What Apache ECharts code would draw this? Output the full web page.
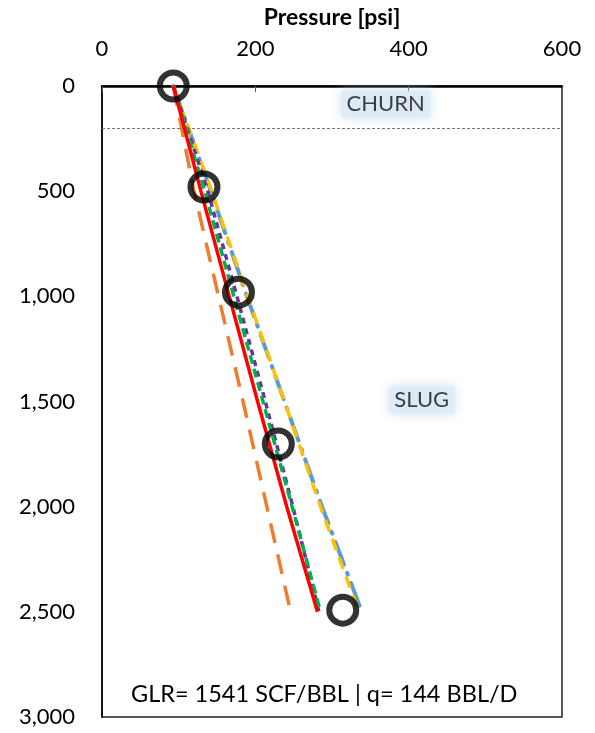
<!DOCTYPE html>
<html><head><meta charset="utf-8">
<script src="https://cdn.jsdelivr.net/npm/echarts@6/dist/echarts.min.js"></script>
<style>html,body{margin:0;padding:0;background:#fff}#c{width:595px;height:733px}</style>
</head><body><div id="c"></div>
<script>
const depths = [0, 500, 1000, 1500, 2000, 2500];
const redP    = [93, 129, 166, 203, 241, 281];
const greenP  = [93, 134, 172, 210, 248, 285];
const purpleP = [93, 138, 176, 213, 249, 283];
const orangeP = [93, 120, 152, 184, 215, 246];
const yellowP = [93, 143, 190, 238, 285, 335];
const blueP   = [93, 142, 189, 238, 287, 339];
const measP = [93, 133, 178, 230, 314];
const measD = [0, 480, 980, 1702, 2492];
const regimeNames = ['CHURN', 'SLUG'];
const regimeP = [370, 417];
const regimeD = [86, 1493];
const boundaryD = [200];
const xTicks = [0, 200, 400, 600];
const yTicks = [0, 500, 1000, 1500, 2000, 2500, 3000];
const note = 'GLR= 1541 SCF/BBL | q= 144 BBL/D';

const FONT = 'Lato, "Open Sans", sans-serif';
const pair = (ps, ds) => ps.map((p, i) => [p, ds[i]]);
function lineSeries(name, vals, color, type, width, z, cap) {
  return { name, type: 'line', data: pair(vals, depths), symbol: 'none', z,
    lineStyle: { color, width, type, cap: cap || 'butt' }, silent: true, animation: false };
}
const chart = echarts.init(document.getElementById('c'), null, { renderer: 'canvas' });
chart.setOption({
  animation: false,
  grid: { left: 102, top: 86, right: 33, bottom: 16, show: true, borderColor: '#222', borderWidth: 1.5, backgroundColor: 'transparent' },
  xAxis: {
    type: 'value', position: 'top', min: xTicks[0], max: xTicks[xTicks.length - 1], interval: 200,
    name: 'Pressure [psi]', nameLocation: 'middle', nameGap: 57,
    nameTextStyle: { fontFamily: FONT, fontSize: 23, fontWeight: 'bold', color: '#000' },
    axisLine: { show: true, lineStyle: { color: '#000', width: 2.5 } },
    axisTick: { show: true, inside: true, length: 6, lineStyle: { color: '#555', width: 1 } },
    axisLabel: { fontFamily: FONT, fontSize: 22, color: '#000', margin: 26 },
    splitLine: { show: false }
  },
  yAxis: {
    type: 'value', inverse: true, min: yTicks[0], max: yTicks[yTicks.length - 1], interval: 500,
    axisLine: { show: true, lineStyle: { color: '#000', width: 1.5 } },
    axisTick: { show: false },
    axisLabel: { fontFamily: FONT, fontSize: 22, color: '#000', margin: 27,
      formatter: v => v.toLocaleString('en-US') },
    splitLine: { show: false }
  },
  series: [
    { type: 'line', data: [], markLine: { silent: true, symbol: 'none', label: { show: false },
        lineStyle: { color: '#777', type: [3, 2], width: 1 },
        data: boundaryD.map(d => ({ yAxis: d })) } },
    lineSeries('orange', orangeP, '#ED7D31', [20, 12], 3.5, 3),
    lineSeries('blue', blueP, '#5B9BD5', [24, 9, 2, 9], 4, 3, 'round'),
    lineSeries('yellow', yellowP, '#FFC000', [12, 8], 3.5, 4),
    lineSeries('purple', purpleP, '#7030A0', [6, 5], 3.5, 4),
    lineSeries('green', greenP, '#00B050', [9, 5], 3.5, 5),
    lineSeries('red', redP, '#FF0000', 'solid', 3.5, 6),
    { type: 'scatter', data: pair(measP, measD), symbol: 'circle', symbolSize: 27, z: 10,
      itemStyle: { color: 'rgba(255,255,255,0)', borderColor: '#000', borderWidth: 6 }, silent: true },
    { type: 'scatter', data: regimeP.map((p, i) => ({ value: [p, regimeD[i]], name: regimeNames[i] })),
      symbolSize: 0, z: 8, silent: true,
      label: { show: true, position: 'inside', formatter: p => p.name, fontFamily: FONT, fontSize: 22, color: '#111',
        backgroundColor: 'rgba(222,234,247,0.85)', padding: [3, 6], shadowBlur: 12, shadowColor: 'rgba(190,212,238,0.9)' } }
  ],
  graphic: [{ type: 'text', left: 131, top: 682, style: { text: note, fontFamily: FONT, fontSize: 23.5, fill: '#000' } }]
});
</script></body></html>
